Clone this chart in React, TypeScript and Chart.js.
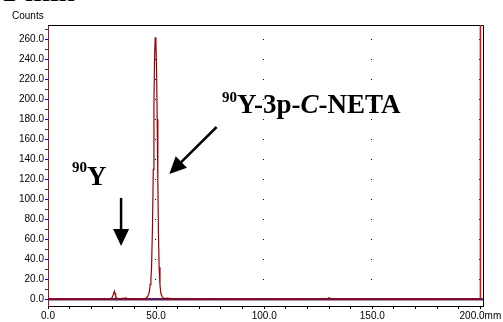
import React, { useEffect, useRef } from "react";
import { Chart, registerables } from "chart.js";

Chart.register(...registerables);

// ---- data ----
const TRACE_X = [0, 5, 10, 15, 20, 25, 28, 29, 29.6, 30.0, 30.4, 30.7, 31.0, 31.3, 31.7, 32.2, 33, 34, 35, 35.5, 36, 36.5, 37, 38, 40, 43, 45, 45.8, 46.4, 46.9, 47.3, 47.6, 47.9, 48.3, 48.7, 49.0, 49.3, 49.6, 49.9, 50.2, 50.5, 50.8, 51.1, 51.4, 51.8, 52.2, 52.7, 53.3, 54, 55, 58, 60, 65, 70, 80, 90, 100, 110, 120, 129, 130, 131, 140, 150, 160, 170, 180, 190, 199, 200];
const TRACE_Y = [0.3, 0.2, 0.3, 0.2, 0.3, 0.2, 0.5, 0.8, 1.5, 3.5, 6, 8, 6, 3, 1.5, 0.8, 0.5, 0.8, 1.2, 0.6, 1.5, 0.8, 0.5, 0.3, 0.4, 0.2, 0.5, 2, 4, 8, 15, 20, 32, 70, 130, 195, 242, 262, 257, 232, 180, 120, 65, 32, 14, 6, 3, 1.5, 0.6, 1.2, 0.4, 0.8, 0.3, 0.2, 0.3, 0.2, 0.3, 0.2, 0.3, 0.3, 1.5, 0.3, 0.2, 0.3, 0.2, 0.3, 0.2, 0.3, 0.2, 0.2];

const BASELINE_X = [0, 201.2];
const BASELINE_Y = [0, 0];

const MARKER_X = [200, 200];
const MARKER_Y = [0, 274.3];

const X_TICKS = [0, 10, 20, 30, 40, 50, 60, 70, 80, 90, 100, 110, 120, 130, 140, 150, 160, 170, 180, 190, 200];
const X_LABEL_VALUES = [0, 50, 100, 150, 200];
const X_LABELS = ["0.0", "50.0", "100.0", "150.0", "200.0mm"];

const Y_TICKS = [0, 10, 20, 30, 40, 50, 60, 70, 80, 90, 100, 110, 120, 130, 140, 150, 160, 170, 180, 190, 200, 210, 220, 230, 240, 250, 260, 270];
const Y_LABEL_VALUES = [0, 20, 40, 60, 80, 100, 120, 140, 160, 180, 200, 220, 240, 260];

const GRID_DOT_X = [50, 100, 150, 200];
const GRID_DOT_Y = [20, 40, 60, 80, 100, 120, 140, 160, 180, 200, 220, 240, 260];

const Y_TITLE = "Counts";
const LABEL_SMALL = { sup: "90", main: "Y" };
const LABEL_BIG = { sup: "90", parts: ["Y-3p-", "C", "-NETA"] };
const LABEL_SMALL_POS = { x: 11.1, y: 114.3 };
const LABEL_BIG_POS = { x: 80.5, y: 186.3 };
const ARROW_SMALL = { x1: 33.8, y1: 101.3, x2: 33.8, y2: 53.3 };
const ARROW_BIG = { x1: 78.0, y1: 172.3, x2: 56.1, y2: 125.3 };

const X_MIN = 0;
const X_MAX = 201.2;
const Y_MIN = -6.7;
const Y_MAX = 274.3;

function zip(xs: number[], ys: number[]) {
  return xs.map((x, i) => ({ x, y: ys[i] }));
}

const SERIF = "'Liberation Serif', 'Times New Roman', serif";
const SANS = "'Liberation Sans', Arial, sans-serif";

function drawArrow(ctx: CanvasRenderingContext2D, x1: number, y1: number, x2: number, y2: number) {
  const dx = x2 - x1;
  const dy = y2 - y1;
  const len = Math.hypot(dx, dy);
  const ux = dx / len;
  const uy = dy / len;
  const headLen = 17;
  const headHalf = 8;
  const bx = x2 - ux * headLen;
  const by = y2 - uy * headLen;
  ctx.save();
  ctx.strokeStyle = "#000";
  ctx.fillStyle = "#000";
  ctx.lineWidth = 2.5;
  ctx.beginPath();
  ctx.moveTo(x1, y1);
  ctx.lineTo(bx + ux * 2, by + uy * 2);
  ctx.stroke();
  ctx.beginPath();
  ctx.moveTo(x2, y2);
  ctx.lineTo(bx - uy * headHalf, by + ux * headHalf);
  ctx.lineTo(bx + uy * headHalf, by - ux * headHalf);
  ctx.closePath();
  ctx.fill();
  ctx.restore();
}

const decorPlugin = {
  id: "decor",
  beforeDatasetsDraw(chart: any) {
    const { ctx, chartArea, scales } = chart;
    const xs = scales.x;
    const ys = scales.y;
    ctx.save();
    ctx.fillStyle = "#0000CC";
    for (const gx of GRID_DOT_X) {
      for (const gy of GRID_DOT_Y) {
        const px = Math.round(xs.getPixelForValue(gx)) - 1;
        const py = Math.round(ys.getPixelForValue(gy));
        ctx.fillRect(px, py, 1, 1);
      }
    }
    ctx.strokeStyle = "#000";
    ctx.lineWidth = 1;
    ctx.beginPath();
    ctx.moveTo(chartArea.left, chartArea.top + 0.5);
    ctx.lineTo(chartArea.right + 0.5, chartArea.top + 0.5);
    ctx.lineTo(chartArea.right + 0.5, chartArea.bottom);
    ctx.stroke();
    ctx.restore();
  },
  afterDraw(chart: any) {
    const { ctx, scales } = chart;
    const xs = scales.x;
    const ys = scales.y;
    ctx.save();
    ctx.fillStyle = "#000";
    ctx.font = `10px ${SANS}`;
    ctx.textBaseline = "alphabetic";
    ctx.textAlign = "left";
    ctx.fillText(Y_TITLE, 12, 18.5);

    let x = xs.getPixelForValue(LABEL_SMALL_POS.x);
    let y = ys.getPixelForValue(LABEL_SMALL_POS.y);
    ctx.font = `bold 15px ${SERIF}`;
    ctx.fillText(LABEL_SMALL.sup, x, y - 13);
    x += ctx.measureText(LABEL_SMALL.sup).width;
    ctx.font = `bold 27px ${SERIF}`;
    ctx.fillText(LABEL_SMALL.main, x, y);

    x = xs.getPixelForValue(LABEL_BIG_POS.x);
    y = ys.getPixelForValue(LABEL_BIG_POS.y);
    ctx.font = `bold 15px ${SERIF}`;
    ctx.fillText(LABEL_BIG.sup, x, y - 11);
    x += ctx.measureText(LABEL_BIG.sup).width;
    LABEL_BIG.parts.forEach((p, i) => {
      ctx.font = i === 1 ? `italic bold 27px ${SERIF}` : `bold 27px ${SERIF}`;
      ctx.fillText(p, x, y);
      x += ctx.measureText(p).width;
    });

    drawArrow(
      ctx,
      xs.getPixelForValue(ARROW_SMALL.x1),
      ys.getPixelForValue(ARROW_SMALL.y1),
      xs.getPixelForValue(ARROW_SMALL.x2),
      ys.getPixelForValue(ARROW_SMALL.y2)
    );
    drawArrow(
      ctx,
      xs.getPixelForValue(ARROW_BIG.x1),
      ys.getPixelForValue(ARROW_BIG.y1),
      xs.getPixelForValue(ARROW_BIG.x2),
      ys.getPixelForValue(ARROW_BIG.y2)
    );
    ctx.restore();
  },
};

export default function App() {
  const ref = useRef<HTMLCanvasElement | null>(null);
  useEffect(() => {
    if (!ref.current) return;
    const chart = new Chart(ref.current, {
      type: "line",
      data: {
        datasets: [
          {
            label: "trace",
            data: zip(TRACE_X, TRACE_Y),
            borderColor: "#990000",
            borderWidth: 1.2,
            pointRadius: 0,
            tension: 0,
          },
          {
            label: "baseline",
            data: zip(BASELINE_X, BASELINE_Y),
            borderColor: "#5B1E5E",
            borderWidth: 2.5,
            pointRadius: 0,
          },
          {
            label: "end",
            data: zip(MARKER_X, MARKER_Y),
            borderColor: "#FF0000",
            borderWidth: 1.5,
            pointRadius: 0,
          },
        ],
      },
      options: {
        responsive: false,
        animation: false,
        devicePixelRatio: 1,
        layout: { padding: { top: 25, right: 20, left: 0, bottom: 0 } },
        plugins: { legend: { display: false }, tooltip: { enabled: false } },
        scales: {
          x: {
            type: "linear",
            min: X_MIN,
            max: X_MAX,
            afterBuildTicks: (s: any) => {
              s.ticks = X_TICKS.map((v) => ({ value: v }));
            },
            afterFit: (s: any) => {
              s.height = 16;
            },
            border: { display: true, color: "#000", width: 1 },
            grid: {
              drawOnChartArea: false,
              drawTicks: true,
              tickLength: 3,
              tickColor: "#000",
            },
            ticks: {
              autoSkip: false,
              maxRotation: 0,
              padding: 1,
              color: "#000",
              font: { family: SANS, size: 10 },
              callback: (v: any) => {
                const i = X_LABEL_VALUES.indexOf(Number(v));
                return i >= 0 ? X_LABELS[i] : "";
              },
            },
          },
          y: {
            type: "linear",
            min: Y_MIN,
            max: Y_MAX,
            afterBuildTicks: (s: any) => {
              s.ticks = Y_TICKS.map((v) => ({ value: v }));
            },
            afterFit: (s: any) => {
              s.width = 48;
            },
            border: { display: true, color: "#9A1A1A", width: 1 },
            grid: {
              drawOnChartArea: false,
              drawTicks: true,
              tickLength: 3,
              tickColor: (c: any) =>
                Y_LABEL_VALUES.includes(c.tick?.value) ? "#0000CC" : "#333",
            },
            ticks: {
              autoSkip: false,
              padding: 1,
              color: "#000",
              font: { family: SANS, size: 10 },
              callback: (v: any) =>
                Y_LABEL_VALUES.includes(Number(v)) ? Number(v).toFixed(1) : "",
            },
          },
        },
      },
      plugins: [decorPlugin],
    } as any);
    return () => chart.destroy();
  }, []);
  return (
    <div style={{ position: "absolute", left: 0, top: 0, width: 503, height: 322, overflow: "hidden", background: "#fff" }}>
      <div
        style={{
          position: "absolute",
          left: 1,
          top: -26,
          fontFamily: SERIF,
          fontSize: 32,
          lineHeight: 1,
          whiteSpace: "nowrap",
        }}
      >
        1 min
      </div>
      <canvas ref={ref} width={503} height={322} style={{ position: "absolute", left: 0, top: 0 }} />
    </div>
  );
}
